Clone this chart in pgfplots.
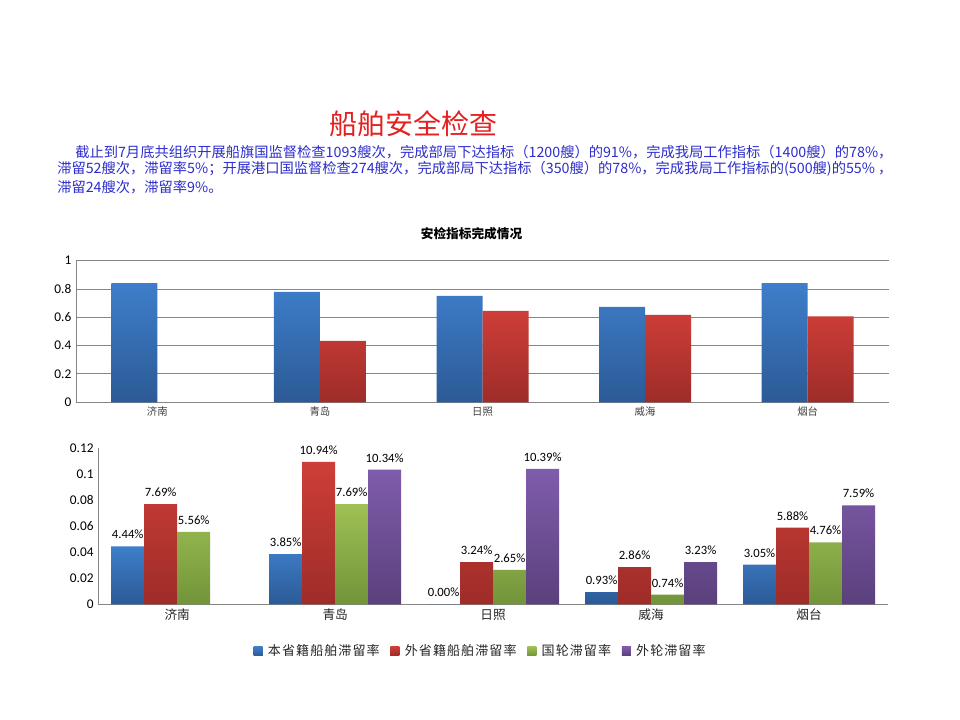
\documentclass[border=0pt]{standalone}
\usepackage{pgfplots}
\pgfplotsset{compat=1.18}
\usepackage{fontspec}
\setmainfont{Carlito}
\newfontfamily\cjk{Noto Sans CJK SC}
\newfontfamily\cjkl[LetterSpace=8]{Noto Sans CJK SC}
\definecolor{titlered}{RGB}{228,32,32}
\definecolor{textblue}{RGB}{45,45,205}
\definecolor{gridgray}{RGB}{134,134,134}
\definecolor{bT}{RGB}{62,126,202}
\definecolor{bB}{RGB}{44,90,150}
\definecolor{rT}{RGB}{206,62,56}
\definecolor{rB}{RGB}{158,44,40}
\definecolor{gT}{RGB}{158,192,84}
\definecolor{gB}{RGB}{114,148,58}
\definecolor{pT}{RGB}{128,92,172}
\definecolor{pB}{RGB}{90,64,124}
\begin{document}
\begin{tikzpicture}[x=0.75pt,y=0.75pt]
\fill[white] (0,0) rectangle (960,720);
\node[text=titlered, font=\cjk\fontsize{21}{25}\selectfont] at (413,596) {船舶安全检查};
\begin{scope}[every node/.style={anchor=west, inner sep=0pt, text=textblue, font=\cjk\fontsize{10.7}{12}\selectfont}]
\node at (75,568) {截止到7月底共组织开展船旗国监督检查1093艘次，完成部局下达指标（1200艘）的91\%，完成我局工作指标（1400艘）的78\%，};
\node at (57,551) {滞留52艘次，滞留率5\%；开展港口国监督检查274艘次，完成部局下达指标（350艘）的78\%，完成我局工作指标的(500艘)的55\% ，};
\node at (57,533) {滞留24艘次，滞留率9\%。};
\end{scope}
\node[font=\cjk\bfseries\fontsize{9.5}{11}\selectfont] at (471.5,486) {安检指标完成情况};

\begin{axis}[
  at={(57pt,238.3pt)}, anchor=south west, scale only axis,
  width=609.75pt, height=106.2pt,
  ybar=0pt, bar width=34.5pt,
  xmin=-0.5, xmax=4.5, ymin=0, ymax=1,
  xtick={0,1,2,3,4}, xticklabels={济南,青岛,日照,威海,烟台},
  x tick label style={font=\cjk\fontsize{7.8}{9}\selectfont, text=black!75},
  ytick={0,0.2,0.4,0.6,0.8,1}, yticklabels={0,0.2,0.4,0.6,0.8,1},
  y tick label style={font=\fontsize{10}{12}\selectfont},
  ymajorgrids, grid style={draw=gridgray, line width=0.7pt},
  axis x line*=bottom, axis y line*=left,
  axis line style={-, draw=gridgray, line width=0.7pt},
  major tick length=0pt,
  clip=false,
]
\addplot[draw=none, top color=bT, bottom color=bB] coordinates {(0,0.842) (1,0.779) (2,0.751) (3,0.673) (4,0.842)};
\addplot[draw=none, top color=rT, bottom color=rB] coordinates {(1,0.433) (2,0.645) (3,0.617) (4,0.607)};
\end{axis}

\begin{axis}[
  at={(73.7pt,86.8pt)}, anchor=south west, scale only axis,
  width=592.3pt, height=117.2pt,
  ybar=0pt, bar width=24.75pt,
  xmin=-0.5, xmax=4.5, ymin=0, ymax=0.12,
  xtick={0,1,2,3,4}, xticklabels={济南,青岛,日照,威海,烟台},
  x tick label style={font=\cjk\fontsize{9.5}{11}\selectfont, text=black!85},
  ytick={0,0.02,0.04,0.06,0.08,0.1,0.12}, yticklabels={0,0.02,0.04,0.06,0.08,0.1,0.12},
  y tick label style={font=\fontsize{10}{12}\selectfont},
  axis x line*=bottom, axis y line*=left,
  axis line style={-, draw=gridgray, line width=0.7pt},
  major tick length=0pt,
  point meta=explicit symbolic,
  nodes near coords,
  every node near coord/.append style={font=\fontsize{9.5}{11}\selectfont, text=black, anchor=south, yshift=2pt},
  legend style={at={(0.4846,-0.30)}, anchor=center, draw=none, fill=none,
    font=\cjkl\fontsize{9.8}{11}\selectfont, text=black!85,
    legend columns=4,
    /tikz/every odd column/.append style={column sep=2pt},
    /tikz/every even column/.append style={column sep=6pt}},
  clip=false,
]
\addplot[draw=none, top color=bT, bottom color=bB,
  legend image code/.code={\fill[bT] (0pt,-3.4pt) rectangle (6.75pt,3.4pt);}]
  coordinates {(0,0.0444)[4.44\%] (1,0.0385)[3.85\%] (2,0)[0.00\%] (3,0.0093)[0.93\%] (4,0.0305)[3.05\%]};
\addplot[draw=none, top color=rT, bottom color=rB,
  legend image code/.code={\fill[rT] (0pt,-3.4pt) rectangle (6.75pt,3.4pt);}]
  coordinates {(0,0.0769)[7.69\%] (1,0.1094)[10.94\%] (2,0.0324)[3.24\%] (3,0.0286)[2.86\%] (4,0.0588)[5.88\%]};
\addplot[draw=none, top color=gT, bottom color=gB,
  legend image code/.code={\fill[gT] (0pt,-3.4pt) rectangle (6.75pt,3.4pt);}]
  coordinates {(0,0.0556)[5.56\%] (1,0.0769)[7.69\%] (2,0.0265)[2.65\%] (3,0.0074)[0.74\%] (4,0.0476)[4.76\%]};
\addplot[draw=none, top color=pT, bottom color=pB,
  legend image code/.code={\fill[pT] (0pt,-3.4pt) rectangle (6.75pt,3.4pt);}]
  coordinates {(1,0.1034)[10.34\%] (2,0.1039)[10.39\%] (3,0.0323)[3.23\%] (4,0.0759)[7.59\%]};
\legend{本省籍船舶滞留率,外省籍船舶滞留率,国轮滞留率,外轮滞留率}
\end{axis}
\end{tikzpicture}
\end{document}
